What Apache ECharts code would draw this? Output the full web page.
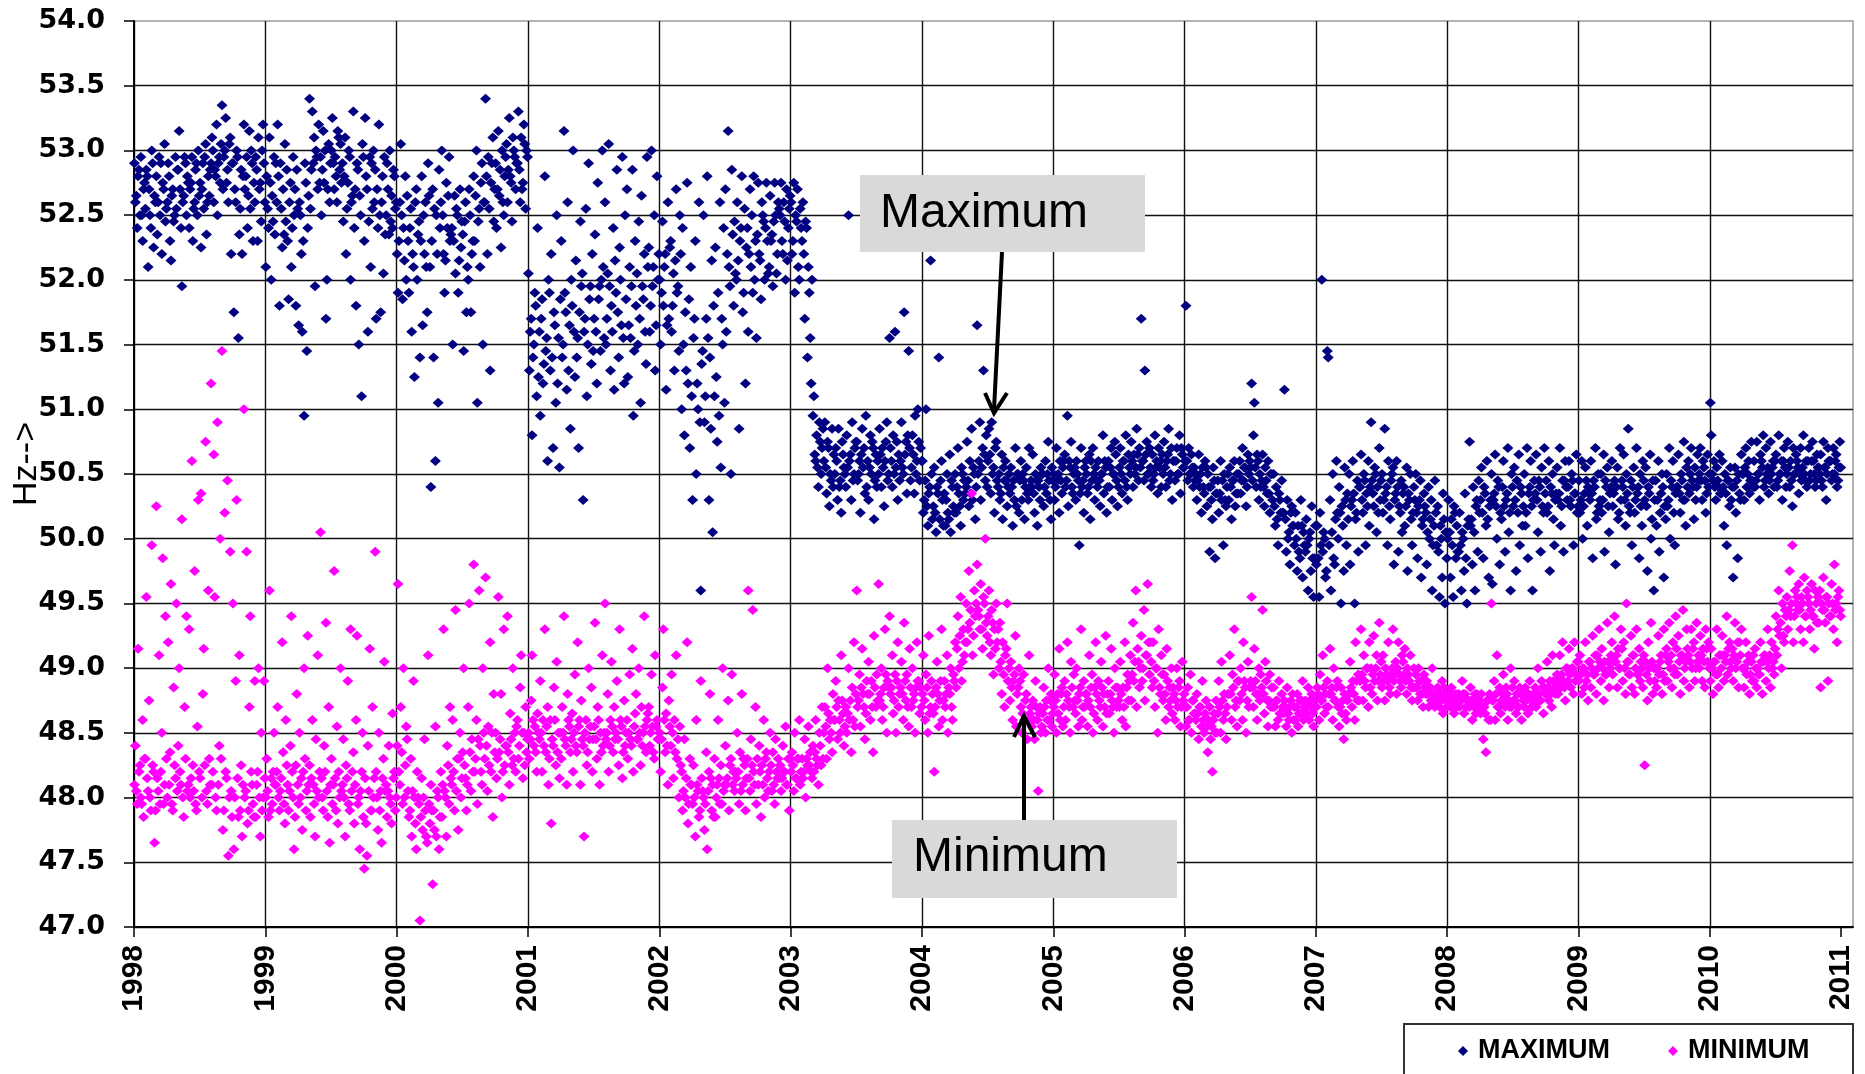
<!DOCTYPE html>
<html><head><meta charset="utf-8">
<script src="https://cdn.jsdelivr.net/npm/echarts@6/dist/echarts.min.js"></script>
<style>html,body{margin:0;padding:0;background:#fff}#c{width:1865px;height:1074px}</style>
</head><body><div id="c"></div>
<script>
// Tick labels (years on the x axis)
const years = [1998,1999,2000,2001,2002,2003,2004,2005,2006,2007,2008,2009,2010,2011];
const seriesNames = ['MAXIMUM','MINIMUM'];
const yAxisTitle = 'Hz-->';

// Maximum frequency readings (Hz), 12 readings per month, one line per month Jan..Dec
const max1998 = [
52.9,52.6,52.65,52.4,52.8,52.85,52.5,52.95,52.5,52.3,52.7,52.75,
52.55,52.85,52.8,52.1,52.7,52.5,52.4,53.0,52.9,52.25,52.65,52.6,
52.8,52.35,52.6,52.95,52.5,52.9,52.2,52.75,52.7,53.05,52.45,52.55,
52.6,52.9,52.8,52.3,52.15,52.65,52.7,52.45,52.5,52.95,52.55,52.85,
52.85,53.15,52.7,52.4,51.95,52.6,52.65,52.95,52.9,52.5,52.8,52.75,
52.4,52.7,52.75,52.95,52.3,52.55,52.6,52.85,52.9,52.5,53.0,52.65,
52.75,52.25,52.7,52.9,52.55,52.95,53.05,52.35,52.6,52.8,52.65,52.85,
52.9,53.1,53.0,52.6,52.85,52.8,53.2,52.5,52.9,52.95,52.75,53.05,
53.35,52.7,52.95,53.0,53.25,52.75,52.85,52.6,53.05,53.1,52.2,52.9,
52.9,51.75,52.7,52.6,53.0,52.95,51.55,52.35,52.55,52.85,52.2,52.8,
53.2,52.7,52.8,52.95,52.4,52.65,53.15,52.55,53.0,52.9,52.3,52.75,
52.6,52.95,52.85,52.3,53.1,52.7,52.75,52.45,53.0,53.2,52.9,52.6];
const max1999 = [
52.1,52.8,52.55,52.4,53.1,52.75,52.0,52.65,52.45,52.95,52.35,52.9,
52.6,53.2,52.8,51.8,52.9,52.55,52.25,52.7,52.35,53.05,52.45,52.85,
52.3,51.85,52.6,52.75,52.1,52.4,52.95,52.5,52.7,51.8,52.85,52.55,
51.65,52.6,52.5,52.2,51.6,52.3,50.95,52.9,52.75,51.45,52.4,52.65,
53.4,52.55,52.85,53.3,52.9,53.1,51.95,53.0,52.95,52.7,53.2,52.75,
52.95,52.5,52.85,53.15,52.75,53.0,51.7,52.0,52.7,53.05,52.6,52.9,
53.0,53.25,52.9,52.7,52.95,52.8,52.6,53.15,53.1,52.85,53.05,52.75,
52.9,52.45,52.8,53.1,52.2,52.55,52.75,53.0,52.95,52.0,52.6,52.65,
53.3,52.4,52.7,51.8,52.9,52.85,51.5,52.65,52.5,51.1,53.05,52.95,
52.3,53.25,52.8,52.7,51.6,52.45,52.95,52.1,52.9,52.55,53.0,52.6,
52.85,51.7,52.7,52.4,53.2,52.5,51.75,52.6,52.8,52.05,52.95,52.35,
52.5,52.9,52.7,52.35,53.0,52.45,52.65,52.4,52.85,52.8,52.55,52.6];
const max2000 = [
52.2,51.9,52.3,52.6,53.05,52.5,51.85,52.4,52.15,52.8,52.0,52.65,
52.3,51.9,52.4,52.55,51.6,52.2,52.1,51.25,52.6,52.7,52.0,52.35,
52.45,51.4,52.3,52.8,51.65,52.5,52.2,52.6,52.1,51.75,52.9,52.65,
52.1,50.4,52.3,52.7,51.4,52.55,50.6,52.5,52.2,51.05,52.85,52.4,
52.6,53.0,52.5,52.2,51.9,52.15,52.75,52.4,52.65,52.95,52.3,52.35,
52.4,51.5,52.3,52.65,52.05,52.55,52.5,51.9,52.15,52.7,52.25,52.45,
52.35,51.45,52.45,52.6,51.75,52.1,52.0,52.7,52.5,51.75,52.2,52.3,
52.8,52.3,52.65,53.0,51.05,52.45,52.55,52.1,52.75,52.9,51.5,52.6,
52.6,53.4,52.8,52.2,52.95,52.55,51.3,52.75,52.9,53.1,52.45,52.7,
52.9,52.4,52.7,53.15,52.65,52.85,52.25,53.0,52.6,52.5,52.8,52.95,
53.05,52.6,52.85,53.25,52.8,52.75,52.45,53.1,53.0,52.95,52.7,52.9,
52.9,53.3,52.85,52.6,53.1,52.7,52.75,53.2,53.05,52.55,53.0,52.95];
const max2001 = [
52.05,51.3,51.6,51.7,50.8,51.4,51.5,51.9,51.8,51.1,52.4,51.25,
51.6,50.95,51.7,51.85,51.2,51.35,52.8,51.45,51.55,50.6,52.0,51.9,
51.3,52.2,51.4,50.7,51.75,51.65,51.05,52.5,51.2,51.55,50.55,51.85,
52.3,51.4,51.5,53.15,51.9,51.75,51.15,52.6,51.3,51.65,50.85,52.0,
51.8,53.0,51.6,51.25,52.15,51.4,51.55,50.7,51.75,52.45,51.95,52.05,
50.3,51.6,51.7,52.55,51.1,51.5,52.9,51.85,51.95,51.35,52.2,51.45,
51.7,52.35,51.6,51.2,52.75,51.85,51.95,51.45,52.0,53.0,52.1,51.55,
52.6,51.5,51.7,52.05,53.05,51.95,51.3,51.8,51.6,52.4,51.15,52.15,
51.9,52.85,51.75,51.4,52.25,52.0,51.65,52.95,51.55,51.2,52.5,51.85,
52.7,51.25,51.65,52.1,51.55,51.95,52.85,50.95,51.45,52.3,51.8,52.05,
51.5,52.45,51.7,51.05,52.65,51.95,51.85,52.2,51.6,51.35,52.95,52.1,
52.25,51.6,51.8,53.0,51.95,52.1,52.5,51.3,51.65,52.8,52.0,52.2];
const max2002 = [
52.0,51.5,51.9,52.45,51.8,52.1,52.2,51.15,51.65,52.6,51.7,52.25,
52.3,51.6,51.8,52.05,51.3,52.15,52.7,51.9,51.95,51.45,52.5,52.2,
51.0,52.4,51.5,50.8,51.75,51.3,52.75,51.2,51.85,50.7,52.1,51.1,
50.3,51.55,51.7,52.3,50.5,51.2,51.0,52.6,50.9,49.6,51.35,51.45,
52.5,50.9,51.1,51.7,52.8,51.55,50.3,51.4,50.85,52.15,50.05,51.8,
51.1,52.25,51.25,50.75,51.9,50.95,52.6,50.55,51.7,51.5,52.4,51.05,
52.7,51.6,52.2,53.15,52.1,51.95,50.5,52.85,52.35,51.8,52.45,52.05,
52.0,52.6,52.15,50.85,52.3,52.4,52.8,51.75,51.9,52.55,51.2,52.25,
52.4,51.6,52.2,52.7,52.1,52.5,51.9,52.8,52.0,52.3,51.55,52.35,
52.75,52.2,52.15,51.85,52.6,52.5,52.45,52.0,52.4,52.75,52.3,52.05,
52.1,52.65,52.3,52.35,51.95,52.45,52.75,52.5,52.05,52.2,52.6,52.55,
52.5,52.75,52.3,52.2,52.6,52.45,52.0,52.7,52.15,52.4,52.55,52.65];
const max2003 = [
52.6,52.2,52.3,52.75,51.9,52.5,52.45,52.7,52.1,52.0,52.55,52.4,
52.3,52.6,52.2,51.7,52.45,52.4,51.4,52.1,51.9,51.55,51.2,52.0,
50.95,51.1,50.65,50.6,50.8,50.55,50.4,50.9,50.75,50.5,50.7,50.85,
50.6,50.9,50.55,50.35,50.75,50.7,50.25,50.5,50.45,50.85,50.4,50.65,
50.5,50.7,50.6,50.3,50.85,50.4,50.45,50.2,50.75,50.65,50.55,50.5,
50.4,50.8,50.55,52.5,50.6,50.65,50.3,50.9,50.45,50.5,50.7,50.75,
50.75,50.45,50.5,50.6,50.2,50.65,50.85,50.55,50.7,50.35,50.95,50.4,
50.6,50.3,50.55,50.8,50.5,50.75,50.7,50.15,50.45,50.65,50.4,50.6,
50.5,50.85,50.65,50.4,50.7,50.55,50.25,50.6,50.75,50.9,50.45,50.5,
51.55,50.7,50.6,50.4,50.8,50.5,51.6,50.55,50.75,50.3,50.65,50.45,
50.6,50.9,50.55,50.5,51.75,50.65,50.75,50.35,50.8,51.45,50.7,50.45,
50.55,50.8,50.65,50.35,50.95,50.5,50.6,51.0,50.75,50.45,50.7,50.6];
const max2004 = [
50.6,50.2,50.3,50.45,51.0,50.25,50.1,50.35,50.4,52.15,50.5,50.15,
50.25,50.55,50.2,50.05,50.4,50.35,51.4,50.15,50.45,50.6,50.3,50.1,
50.35,50.1,50.3,50.5,50.2,50.15,50.65,50.05,50.45,50.4,50.25,50.2,
50.5,50.2,50.4,50.7,50.35,50.25,50.1,50.55,50.5,50.3,50.45,50.35,
50.4,50.75,50.45,50.25,50.6,50.35,50.85,50.3,50.55,50.5,50.15,50.4,
51.65,50.5,50.6,50.9,50.3,50.55,50.7,51.3,50.65,50.45,50.8,50.4,
50.6,50.85,50.65,50.35,50.9,50.5,50.55,50.2,50.7,50.75,50.45,50.4,
50.5,50.3,50.35,50.65,50.15,50.55,50.45,50.6,50.45,50.25,50.4,50.5,
50.35,50.55,50.4,50.1,50.45,50.3,50.7,50.25,50.5,50.5,50.2,50.45,
50.6,50.3,50.5,50.45,50.15,50.4,50.55,50.35,50.3,50.7,50.4,50.45,
50.4,50.65,50.35,50.2,50.5,50.45,50.1,50.45,50.4,50.3,50.55,50.5,
50.5,50.25,50.4,50.6,50.35,50.5,50.75,50.45,50.3,50.15,50.55,50.45];
const max2005 = [
50.5,50.3,50.4,50.7,50.45,50.5,50.2,50.6,50.45,50.35,50.55,50.6,
50.65,50.4,50.45,50.95,50.25,50.6,50.55,50.75,50.4,50.35,50.5,50.55,
50.3,50.6,50.5,50.45,49.95,50.35,50.7,50.4,50.45,50.2,50.55,50.6,
50.5,50.35,50.4,50.65,50.15,50.6,50.45,50.7,50.5,50.3,50.55,50.45,
50.4,50.6,50.45,50.25,50.5,50.5,50.8,50.35,50.6,50.55,50.2,50.4,
50.6,50.4,50.55,50.7,50.3,50.5,50.5,50.75,50.65,50.45,50.25,50.4,
50.55,50.7,50.5,50.35,50.6,50.6,50.45,50.8,50.4,50.3,50.65,50.55,
50.5,50.75,50.6,50.4,50.65,50.5,50.55,50.85,50.65,50.45,50.7,50.55,
51.7,50.6,50.6,50.45,51.3,50.65,50.75,50.5,50.5,50.7,50.55,50.4,
50.65,50.45,50.5,50.8,50.55,50.6,50.35,50.7,50.55,50.6,50.4,50.65,
50.5,50.75,50.55,50.4,50.6,50.65,50.85,50.45,50.5,50.7,50.3,50.6,
50.6,50.45,50.6,50.7,50.5,50.5,50.8,50.35,50.7,50.65,50.55,50.55];
const max2006 = [
50.6,51.8,50.6,50.45,50.7,50.5,50.5,50.65,50.55,50.4,50.55,50.45,
50.5,50.3,50.45,50.65,50.4,50.5,50.2,50.55,50.4,50.35,50.6,50.55,
50.25,50.5,50.4,49.9,50.4,50.3,50.15,50.55,50.45,49.85,50.35,50.35,
50.45,50.2,50.35,50.6,50.3,50.45,49.95,50.5,50.3,50.25,50.4,50.5,
50.3,50.55,50.4,50.15,50.45,50.45,50.6,50.25,50.35,50.5,50.35,50.5,
50.6,50.35,50.45,50.7,50.45,50.55,50.55,50.25,50.4,50.65,50.5,50.6,
50.55,51.2,50.45,50.8,51.05,50.55,50.4,50.65,50.6,50.3,50.5,50.4,
50.45,50.65,50.4,50.25,50.55,50.45,50.35,50.6,50.35,50.2,50.5,50.5,
50.3,50.5,50.25,50.1,50.4,50.15,49.95,50.35,50.3,50.2,50.45,50.2,
50.2,51.15,50.15,49.9,50.3,50.0,50.05,49.8,50.2,50.25,50.1,50.1,
49.95,50.2,50.0,49.75,50.1,49.9,49.85,50.3,50.1,49.7,50.05,49.95,
49.9,50.15,49.95,49.6,50.0,50.05,49.75,50.25,49.85,49.55,49.85,50.1];
const max2007 = [
49.8,50.1,49.85,49.55,50.2,49.95,52.0,49.9,50.05,50.0,49.7,49.75,
51.45,51.4,49.95,50.3,49.6,50.05,50.5,49.85,49.8,50.15,50.6,50.2,
50.0,50.4,50.2,49.5,50.25,50.1,49.75,50.55,50.3,49.95,50.35,50.15,
50.5,49.8,50.25,50.3,50.6,50.35,49.5,50.15,50.2,50.45,49.9,50.4,
50.4,50.65,50.3,50.2,50.5,50.45,49.95,50.35,50.25,50.6,50.1,50.4,
50.9,50.45,50.35,50.25,50.55,50.5,50.05,50.4,50.2,50.7,50.3,50.45,
50.5,50.2,50.3,50.85,50.35,50.4,49.95,50.6,50.25,50.15,50.45,50.5,
50.55,49.8,50.3,50.35,50.6,50.4,49.9,50.25,50.2,50.45,50.05,50.35,
50.4,50.1,50.25,50.55,49.75,50.35,50.3,50.5,50.15,49.95,50.2,50.4,
50.3,50.5,50.2,49.85,50.25,50.3,50.45,49.7,50.1,50.15,50.35,50.25,
50.2,49.8,50.05,50.4,50.0,50.15,50.3,49.6,49.95,50.1,50.45,50.2,
49.95,50.25,49.9,49.55,50.1,50.0,49.7,50.35,50.15,49.5,50.05,49.85];
const max2008 = [
50.0,50.3,50.05,49.7,50.15,49.95,49.55,50.25,50.2,49.85,50.1,49.9,
49.9,50.2,49.95,49.6,50.05,50.0,49.75,50.35,49.85,49.5,50.1,50.15,
50.75,50.1,50.15,49.8,50.4,50.05,49.6,50.25,50.3,49.9,50.45,50.2,
50.3,50.55,50.2,49.85,50.4,50.35,50.1,50.6,50.15,49.7,50.25,50.3,
50.5,49.65,50.3,50.35,50.65,50.25,50.0,50.45,50.4,49.8,50.2,50.15,
50.4,50.6,50.25,49.9,50.3,50.35,50.7,50.05,50.2,49.6,50.5,50.4,
50.25,50.55,50.3,49.75,50.45,50.2,50.65,49.95,50.4,50.35,50.1,50.25,
50.5,50.1,50.2,50.7,49.85,50.35,50.4,50.6,50.25,49.6,50.3,50.45,
50.35,50.65,50.3,50.05,50.45,50.4,49.9,50.55,50.25,50.2,50.7,50.35,
50.45,50.2,50.25,50.6,49.75,50.4,50.35,50.5,50.15,49.95,50.3,50.35,
50.55,50.3,50.35,50.7,50.1,50.25,50.45,49.9,50.45,50.6,50.4,50.3,
50.4,50.6,50.3,50.25,50.5,50.45,49.95,50.35,50.35,50.65,50.2,50.25];
const max2009 = [
50.45,50.2,50.3,50.6,50.0,50.25,50.35,50.55,50.45,50.1,50.4,50.35,
50.3,50.6,50.35,49.85,50.45,50.4,50.7,50.15,50.2,50.5,50.25,50.3,
50.5,50.2,50.3,50.65,49.9,50.45,50.4,50.55,50.25,50.05,50.35,50.4,
50.6,50.25,50.35,50.45,49.8,50.4,50.55,50.15,50.2,50.7,50.3,50.45,
50.4,50.65,50.3,50.1,50.5,50.35,50.85,50.25,50.2,50.45,49.95,50.4,
50.55,50.2,50.3,50.7,50.35,50.4,49.85,50.5,50.25,50.1,50.6,50.45,
50.3,50.55,50.25,49.75,50.4,50.35,50.65,50.0,50.15,50.45,49.6,50.3,
50.45,50.1,50.3,50.6,49.9,50.2,50.35,50.5,50.4,49.7,50.25,50.15,
50.5,50.25,50.3,50.7,50.0,50.45,50.4,50.6,50.2,49.95,50.35,50.4,
50.4,50.65,50.35,50.2,50.5,50.45,50.3,50.75,50.3,50.1,50.55,50.4,
50.6,50.35,50.5,50.7,50.45,50.4,50.15,50.55,50.3,50.4,50.65,50.45,
50.5,50.7,50.45,50.3,50.6,50.55,50.45,50.2,50.35,50.65,50.4,50.5];
const max2010 = [
51.05,50.8,50.5,50.45,50.6,50.4,50.3,50.55,50.45,50.4,50.65,50.35,
50.35,50.6,50.4,50.1,50.5,50.35,49.95,50.45,50.45,50.25,50.55,50.3,
50.4,49.7,50.4,50.55,50.2,50.45,49.85,50.5,50.35,50.3,50.65,50.5,
50.5,50.3,50.55,50.7,50.4,50.5,50.6,50.35,50.45,50.75,50.45,50.4,
50.6,50.4,50.45,50.75,50.5,50.5,50.3,50.65,50.6,50.55,50.8,50.4,
50.45,50.7,50.5,50.55,50.35,50.45,50.75,50.5,50.55,50.6,50.4,50.6,
50.65,50.4,50.45,50.8,50.5,50.5,50.6,50.3,50.6,50.7,50.55,50.4,
50.5,50.75,50.55,50.4,50.6,50.45,50.25,50.7,50.5,50.5,50.65,50.6,
50.55,50.35,50.5,50.7,50.45,50.55,50.8,50.5,50.45,50.6,50.4,50.6,
50.7,50.45,50.5,50.6,50.75,50.6,50.5,50.4,50.45,50.65,50.55,50.55,
50.5,50.65,50.45,50.4,50.75,50.55,50.55,50.3,50.5,50.7,50.6,50.6,
50.6,50.45,50.5,50.7,50.5,50.6,50.65,50.4,50.45,50.55,50.75,50.55];

// Minimum frequency readings (Hz), 12 readings per month, one line per month Jan..Dec
const min1998 = [
48.1,48.4,48.05,47.95,49.15,48.2,48.25,48.0,47.95,48.6,47.85,48.3,
48.3,49.55,48.15,48.05,48.75,48.0,47.9,49.95,48.25,48.2,47.65,47.9,
50.25,48.15,48.05,49.1,47.95,48.2,48.5,49.85,47.95,48.1,49.4,48.3,
48.0,49.2,48.1,48.35,49.65,47.95,47.9,48.85,48.25,48.15,49.5,48.05,
48.4,49.0,48.2,48.1,50.15,48.0,47.85,48.7,48.3,49.4,48.05,48.1,
49.3,48.0,48.15,50.6,48.25,48.05,49.75,47.95,47.9,48.55,50.3,48.2,
48.15,50.35,48.0,48.8,49.15,48.25,50.75,48.05,47.95,49.6,48.3,48.1,
51.2,48.1,48.2,50.65,49.55,48.0,47.9,50.9,48.1,48.4,50.0,48.3,
51.45,47.75,47.9,50.2,48.2,48.15,50.45,47.55,48.0,49.9,48.05,47.85,
49.5,47.6,48.0,48.9,50.3,48.15,47.85,49.1,47.9,48.25,47.7,48.1,
51.0,48.0,48.05,49.9,47.8,47.9,48.7,49.4,48.2,48.1,47.95,47.85,
48.9,47.85,48.1,48.2,49.0,48.0,47.7,48.5,47.9,48.0,48.9,48.15];
const min1999 = [
48.0,48.3,48.05,47.85,49.6,47.9,48.15,47.95,48.2,48.5,48.1,48.1,
48.2,48.7,48.0,47.9,48.05,48.15,49.2,48.35,47.95,47.8,48.6,48.25,
48.1,47.9,48.05,48.4,49.4,48.2,48.0,47.6,47.85,48.25,48.8,48.1,
47.95,48.5,48.0,48.15,47.75,48.2,49.0,48.3,47.9,48.05,49.25,48.1,
48.25,47.85,48.15,48.6,48.1,47.95,47.7,48.45,48.05,49.1,48.0,48.2,
50.05,48.15,48.0,47.9,48.4,48.2,49.35,48.05,47.85,48.7,47.65,48.1,
48.3,47.95,48.1,49.75,48.15,47.9,48.55,47.8,48.2,48.0,49.0,48.05,
48.1,48.45,48.0,47.7,48.25,48.15,48.9,47.95,47.9,49.3,48.05,48.2,
48.35,47.8,48.1,48.6,49.25,47.95,48.0,47.6,48.05,48.2,48.5,47.85,
47.45,48.15,47.8,47.55,48.4,48.05,49.15,47.9,47.9,48.7,48.0,48.15,
49.9,48.2,48.0,47.75,48.5,47.9,48.05,47.65,48.15,48.3,49.05,48.05,
48.1,47.85,48.05,48.4,48.0,47.95,47.8,48.65,48.15,48.2,47.9,48.0];
const min2000 = [
48.4,49.65,48.2,48.1,48.7,48.35,47.95,49.0,48.0,48.25,48.55,48.45,
48.05,47.85,47.9,48.3,47.7,48.05,48.9,48.0,47.8,47.6,48.2,48.0,
47.95,47.05,47.85,48.15,47.75,48.0,48.45,47.9,47.7,47.65,49.1,47.95,
47.8,48.1,47.9,47.33,47.9,47.75,48.55,47.7,48.05,48.0,47.6,47.85,
48.2,47.85,48.1,49.3,48.05,48.0,47.7,48.4,48.25,47.95,48.7,48.15,
48.1,48.6,48.2,47.9,49.45,48.05,48.3,47.75,48.3,48.5,48.0,48.15,
48.35,49.0,48.25,48.15,47.9,48.1,48.7,49.5,48.35,48.05,48.45,48.2,
49.8,48.2,48.3,48.6,47.95,48.45,49.6,48.4,48.2,48.1,49.0,48.5,
48.3,49.7,48.4,48.05,48.55,48.25,49.2,48.2,48.5,47.85,48.8,48.35,
48.5,48.15,48.3,49.55,48.35,48.45,48.8,48.0,48.2,49.3,48.25,48.4,
48.4,49.4,48.35,48.1,48.65,48.45,48.25,49.0,48.3,48.5,48.2,48.55,
48.6,48.3,48.4,48.85,49.1,48.5,48.15,48.5,48.25,48.7,48.35,48.45];
const min2001 = [
48.5,48.3,48.45,48.75,49.1,48.6,48.4,48.55,48.35,48.2,48.65,48.5,
48.45,48.9,48.5,48.2,48.6,48.4,49.3,48.35,48.55,48.7,48.1,48.3,
48.6,47.8,48.45,48.4,48.85,48.6,48.25,49.05,48.35,48.5,48.15,48.5,
48.3,48.7,48.5,49.4,48.45,48.4,48.1,48.8,48.6,48.55,48.35,48.45,
48.65,48.2,48.5,48.95,48.4,48.35,49.2,48.55,48.6,48.1,48.75,48.45,
48.4,47.7,48.5,48.6,48.25,48.35,49.0,48.45,48.55,48.85,48.2,48.45,
48.55,49.35,48.45,48.3,48.7,48.6,48.1,48.5,48.35,49.1,48.4,48.5,
49.5,48.45,48.5,48.8,48.2,48.4,48.6,49.05,48.55,48.35,48.7,48.45,
48.5,48.9,48.45,48.25,49.3,48.6,48.55,48.15,48.35,48.75,48.4,48.5,
48.6,48.3,48.5,48.95,48.45,48.4,49.15,48.2,48.55,48.65,48.8,48.45,
48.45,49.0,48.5,48.25,48.7,48.4,48.5,49.4,48.55,48.35,48.6,48.65,
48.7,48.4,48.5,48.95,48.55,48.35,48.3,49.1,48.55,48.6,48.45,48.45];
const min2002 = [
48.5,48.2,48.45,48.85,49.3,48.6,48.35,48.65,48.4,48.1,48.75,48.55,
48.4,48.95,48.5,48.15,48.6,48.35,49.1,48.3,48.45,48.0,48.55,48.25,
48.2,47.9,48.05,48.45,48.0,48.15,49.2,47.8,47.95,48.3,48.1,48.1,
47.95,48.25,48.0,47.7,48.6,48.1,48.05,47.85,47.9,48.9,48.15,48.05,
48.0,47.75,47.95,48.35,47.6,48.05,48.2,48.8,48.15,47.9,48.1,47.85,
48.3,47.85,48.0,48.1,48.6,48.15,47.95,48.25,47.95,49.0,48.05,48.1,
48.4,48.1,48.15,48.75,47.9,48.25,48.3,48.95,48.1,48.2,48.05,48.2,
48.15,48.5,48.2,47.95,48.35,48.05,48.8,48.1,48.3,48.25,47.9,48.15,
48.3,49.6,48.15,48.05,48.45,48.25,49.45,48.2,48.1,48.7,47.95,48.3,
48.1,48.4,48.2,47.85,48.25,48.1,48.6,48.0,48.3,48.35,48.15,48.05,
48.2,48.5,48.25,48.05,48.35,48.1,47.95,48.45,48.2,48.15,48.3,48.15,
48.25,48.05,48.15,48.4,48.2,48.2,48.55,48.1,48.1,48.3,47.9,48.3];
const min2003 = [
48.2,48.35,48.25,48.05,48.5,48.15,48.15,48.3,48.3,48.6,48.1,48.2,
48.3,48.15,48.2,48.45,48.0,48.3,48.25,48.55,48.25,48.35,48.2,48.15,
48.4,48.2,48.35,48.6,48.3,48.25,48.1,48.5,48.4,48.25,48.7,48.3,
48.5,48.7,48.55,48.3,49.0,48.65,48.45,48.6,48.5,48.35,48.8,48.6,
48.6,48.9,48.7,48.45,48.75,48.6,48.5,49.1,48.75,48.65,48.4,48.55,
48.7,48.5,48.65,49.0,48.6,48.75,48.35,48.85,48.6,49.2,48.55,48.8,
49.6,48.7,48.75,48.95,48.55,48.85,49.15,48.8,48.7,48.45,48.65,48.9,
48.8,49.05,48.8,48.6,48.9,48.7,48.35,49.25,48.85,48.7,48.95,48.75,
49.65,48.75,48.8,49.0,48.6,48.7,48.85,49.3,48.95,48.5,48.9,48.85,
49.4,48.8,48.85,49.1,48.65,48.75,48.95,48.5,48.9,49.2,48.7,48.8,
48.85,49.05,48.8,48.6,49.35,48.9,48.75,48.95,48.7,48.55,49.15,48.85,
48.7,49.0,48.75,48.8,48.5,48.85,49.2,48.9,48.9,48.65,48.85,48.7];
const min2004 = [
48.8,49.1,48.75,48.6,48.95,48.85,48.5,49.25,48.65,48.7,48.9,48.8,
48.65,48.2,48.7,48.85,49.05,48.8,48.55,48.75,48.9,49.3,48.6,48.75,
48.9,48.7,48.8,49.1,48.5,48.85,48.8,49.0,48.7,48.6,48.95,48.9,
49.2,48.85,49.15,49.4,49.0,49.25,49.55,48.9,49.05,49.3,49.1,49.2,
49.5,49.2,49.3,49.75,49.35,49.45,50.35,49.1,49.25,49.6,49.4,49.5,
49.8,49.45,49.4,49.3,49.65,49.3,49.15,49.55,49.5,50.0,49.35,49.25,
49.4,49.6,49.2,49.1,49.45,49.35,48.95,49.3,49.15,49.5,49.2,49.3,
49.0,49.35,49.05,48.8,49.2,48.95,48.7,49.1,49.15,49.5,48.9,49.0,
48.75,49.05,48.85,48.6,48.9,48.95,49.25,48.55,48.8,48.85,49.0,48.9,
48.7,48.5,48.65,48.95,48.6,48.75,48.8,48.45,48.6,49.1,48.65,48.7,
48.55,48.75,48.6,48.45,48.9,48.7,48.6,48.05,48.65,48.7,48.5,48.55,
48.65,48.85,48.7,48.5,48.75,48.6,49.0,48.6,48.75,48.8,48.55,48.65];
const min2005 = [
48.7,48.95,48.75,48.5,48.8,48.65,49.15,48.6,48.8,48.85,48.55,48.7,
48.9,48.6,48.8,49.2,48.75,48.7,48.5,49.05,48.85,48.7,48.95,48.75,
48.65,49.0,48.75,48.55,48.8,48.85,49.3,48.6,48.7,48.9,48.7,48.8,
48.8,48.55,48.75,49.1,48.7,48.85,48.95,48.5,48.65,48.85,49.2,48.8,
48.6,48.9,48.75,48.7,49.05,48.85,48.55,48.8,48.7,49.25,48.65,48.8,
48.9,48.65,48.8,49.15,48.75,48.7,48.5,49.0,48.85,48.7,48.85,48.75,
48.7,49.05,48.8,48.6,48.85,48.7,49.2,48.55,48.85,48.95,48.75,48.9,
49.1,48.75,48.95,49.35,48.9,49.05,49.6,48.7,49.15,49.05,48.85,49.0,
49.25,48.9,49.0,49.45,48.75,49.1,49.1,49.65,49.2,48.95,49.2,49.05,
48.85,49.2,48.9,48.7,49.0,49.0,48.5,49.3,48.85,48.8,49.1,48.95,
48.75,48.95,48.8,48.6,49.15,48.9,48.7,48.85,48.75,49.0,48.65,48.85,
48.8,48.6,48.75,49.0,48.7,48.85,48.9,48.55,48.7,49.05,48.75,48.8];
const min2006 = [
48.7,48.55,48.7,48.85,48.6,48.6,48.95,48.5,48.75,48.75,48.65,48.65,
48.6,48.8,48.65,48.45,48.7,48.7,48.55,48.9,48.6,48.5,48.65,48.75,
48.55,48.35,48.6,48.7,48.45,48.55,48.2,48.6,48.65,48.5,48.75,48.5,
48.65,48.9,48.7,48.5,49.05,48.75,48.6,48.8,48.65,48.45,48.7,48.8,
48.8,49.1,48.8,48.6,48.95,48.85,49.3,48.7,48.75,48.55,48.9,48.9,
48.75,49.0,48.8,48.6,49.2,48.9,48.85,48.5,48.75,49.05,48.7,48.85,
48.9,49.55,48.85,48.7,49.15,48.9,48.8,48.6,48.8,49.0,48.75,48.95,
48.85,49.45,48.8,48.65,49.05,48.9,48.75,48.55,48.75,48.95,48.7,48.85,
48.7,48.85,48.7,48.55,48.75,48.75,48.6,48.9,48.65,48.65,48.8,48.7,
48.65,48.75,48.7,48.55,48.85,48.65,48.6,48.7,48.75,48.5,48.8,48.6,
48.7,48.6,48.7,48.8,48.55,48.65,48.75,48.65,48.75,48.9,48.6,48.7,
48.75,48.65,48.7,48.85,48.6,48.75,48.7,48.8,48.65,48.55,48.75,48.7];
const min2007 = [
48.7,48.85,48.8,48.6,48.95,48.75,48.75,49.1,48.85,48.65,48.8,48.7,
48.9,48.7,48.8,49.15,48.8,48.85,48.6,49.0,48.75,48.75,48.85,48.9,
48.7,48.55,48.7,48.85,48.65,48.75,48.45,48.8,48.65,48.6,48.75,48.8,
48.8,49.05,48.85,48.7,48.9,48.8,48.6,49.2,48.9,48.75,48.95,48.75,
48.9,49.3,48.95,48.75,49.1,48.9,48.85,49.0,49.0,48.7,49.2,48.85,
49.0,48.8,48.95,49.25,48.9,49.0,49.1,48.75,48.9,49.35,48.95,49.05,
48.85,49.1,48.9,48.75,49.0,48.95,48.9,49.2,48.85,48.8,48.95,49.0,
49.3,48.9,48.95,49.05,48.8,49.0,49.2,48.95,48.9,48.85,49.1,49.05,
48.95,49.15,48.9,48.8,49.0,48.95,48.9,49.1,48.85,48.75,48.85,49.0,
48.85,48.95,48.85,48.75,49.0,48.9,48.8,48.9,48.8,48.7,48.95,48.85,
48.8,48.9,48.8,48.7,48.85,48.85,48.75,49.0,48.75,48.8,48.7,48.8,
48.75,48.85,48.8,48.7,48.8,48.75,48.9,48.65,48.85,48.8,48.75,48.7];
const min2008 = [
48.75,48.8,48.75,48.7,48.85,48.8,48.75,48.65,48.7,48.8,48.7,48.75,
48.8,48.7,48.75,48.75,48.9,48.8,48.65,48.8,48.7,48.7,48.75,48.75,
48.7,48.85,48.75,48.6,48.75,48.7,48.8,48.65,48.8,48.75,48.7,48.75,
48.65,48.8,48.7,48.45,48.7,48.65,48.35,48.75,48.75,48.6,48.8,48.6,
49.5,48.75,48.75,48.9,48.6,48.8,49.1,48.7,48.7,48.85,48.65,48.75,
48.8,48.95,48.75,48.7,48.85,48.8,48.6,48.75,48.7,49.0,48.7,48.85,
48.75,48.9,48.75,48.65,48.8,48.7,48.7,48.85,48.8,48.6,48.8,48.75,
48.7,48.85,48.75,48.8,48.65,48.8,48.9,48.75,48.7,48.7,48.8,48.75,
48.85,48.7,48.8,49.0,48.8,48.75,48.75,48.9,48.85,48.65,48.85,48.8,
48.8,49.05,48.85,48.75,48.9,48.8,48.7,49.1,48.9,48.85,48.8,48.85,
48.95,48.8,48.9,49.1,48.85,48.95,49.2,48.9,48.85,48.75,49.0,49.0,
48.9,49.15,48.95,48.85,49.0,49.0,48.8,49.2,48.9,48.95,49.05,49.05];
const min2009 = [
48.9,49.1,48.95,48.8,49.0,49.0,48.85,49.2,48.9,48.95,48.75,49.05,
49.05,48.85,49.0,49.25,48.95,48.95,49.1,48.8,49.1,49.0,49.3,49.05,
48.9,49.15,49.0,48.75,49.05,48.95,48.95,49.35,49.05,48.85,49.0,49.1,
49.2,48.95,49.05,49.4,49.05,49.1,48.85,49.15,49.0,49.0,49.3,49.15,
48.9,49.2,49.0,48.8,49.5,49.05,49.05,48.95,48.95,49.25,48.85,49.1,
49.1,48.8,49.0,49.3,48.95,48.95,49.15,48.9,49.05,49.0,48.85,49.1,
48.25,49.05,48.95,48.75,49.2,49.0,48.9,49.35,49.05,48.8,49.0,48.9,
49.0,48.85,49.0,49.25,48.95,49.05,49.1,48.8,48.95,49.3,48.9,49.1,
49.15,48.9,49.05,49.35,49.0,49.1,48.85,49.2,49.0,48.95,49.4,49.15,
48.95,49.25,49.05,48.8,49.1,49.1,49.45,48.9,49.0,49.05,49.3,49.15,
49.1,48.85,49.05,49.3,49.0,49.15,49.2,48.9,49.0,49.35,49.05,49.1,
49.0,49.25,49.1,48.9,49.15,49.05,48.85,49.3,49.15,49.05,49.2,49.0];
const min2010 = [
48.9,49.15,49.0,48.8,49.05,49.05,48.95,49.3,48.95,48.85,49.1,49.1,
49.0,49.25,49.1,48.9,49.1,49.05,49.4,48.95,49.15,49.2,49.05,49.0,
49.15,48.9,49.1,49.35,49.0,49.05,49.2,48.85,49.2,49.1,49.3,49.0,
49.0,48.85,49.0,49.2,48.95,49.05,49.1,48.8,48.95,49.05,48.9,49.1,
48.9,49.15,49.0,48.85,49.0,48.95,48.95,49.2,49.05,48.8,49.05,49.1,
49.1,48.9,49.05,49.3,49.0,49.1,48.85,49.2,49.0,49.05,48.95,49.15,
49.4,49.1,49.3,49.6,49.25,49.35,49.0,49.5,49.25,49.2,49.45,49.4,
49.55,49.3,49.45,49.75,49.4,49.5,49.95,49.2,49.4,49.6,49.5,49.55,
49.45,49.65,49.45,49.3,49.55,49.5,49.2,49.7,49.4,49.4,49.6,49.55,
49.5,49.3,49.45,49.65,49.4,49.4,49.15,49.6,49.5,49.35,49.55,49.35,
49.6,48.85,49.5,49.45,49.7,49.45,49.35,49.55,49.55,48.9,49.5,49.4,
49.4,49.65,49.5,49.3,49.8,49.45,49.5,49.2,49.55,49.6,49.45,49.4];

const maxByYear = [max1998,max1999,max2000,max2001,max2002,max2003,max2004,max2005,max2006,max2007,max2008,max2009,max2010];
const minByYear = [min1998,min1999,min2000,min2001,min2002,min2003,min2004,min2005,min2006,min2007,min2008,min2009,min2010];

// readings spread evenly through their year (date as fractional year)
function toPoints(arrs){
  const out = [];
  arrs.forEach((arr, k) => {
    const yr = years[k];
    arr.forEach((v, i) => out.push([yr + (i + 0.5) / arr.length, v]));
  });
  return out;
}

const chart = echarts.init(document.getElementById('c'), null, {renderer: 'canvas'});
const gridLineColor = '#111';
const sans = '"Liberation Sans", Arial, sans-serif';
chart.setOption({
  animation: false,
  backgroundColor: '#ffffff',
  grid: {left: 134, right: 12, top: 21, bottom: 147, show: true, borderColor: '#9a9a9a', borderWidth: 1.5,
         backgroundColor: 'transparent', outerBoundsMode: 'none', containLabel: false},
  xAxis: {
    type: 'value', min: 1998, max: 2011.09, interval: 1,
    axisLine: {show: true, onZero: false, lineStyle: {color: '#000', width: 2}},
    axisTick: {show: true, inside: false, length: 10, customValues: years, lineStyle: {color: '#000', width: 1.5}},
    axisLabel: {show: true, customValues: years, rotate: 90, margin: 18, color: '#000',
                fontFamily: sans, fontWeight: 'bold', fontSize: 30,
                formatter: v => String(Math.round(v))},
    splitLine: {show: true, showMaxLine: false, lineStyle: {color: gridLineColor, width: 1.4}}
  },
  yAxis: {
    type: 'value', min: 47, max: 54, interval: 0.5,
    axisLine: {show: true, onZero: false, lineStyle: {color: '#000', width: 2}},
    axisTick: {show: true, inside: false, length: 10, lineStyle: {color: '#000', width: 1.5}},
    axisLabel: {margin: 29, color: '#000', fontFamily: '"DejaVu Sans", sans-serif', fontWeight: 'bold', fontSize: 27,
                formatter: v => v.toFixed(1)},
    splitLine: {show: true, showMaxLine: false, lineStyle: {color: gridLineColor, width: 1.4}}
  },
  legend: {
    data: seriesNames, left: 1458, top: 1036, icon: 'diamond', itemWidth: 10, itemHeight: 10, itemGap: 58,
    padding: 0, z: 20,
    textStyle: {fontFamily: sans, fontWeight: 'bold', fontSize: 27, color: '#000', lineHeight: 30, padding: [0, 0, 0, 5]}
  },
  series: [
    {name: seriesNames[0], type: 'scatter', symbol: 'diamond', symbolSize: [11, 10], z: 2,
     itemStyle: {color: '#000080', opacity: 1}, emphasis: {disabled: true}, data: toPoints(maxByYear)},
    {name: seriesNames[1], type: 'scatter', symbol: 'diamond', symbolSize: [11, 10], z: 3,
     itemStyle: {color: '#ff00ff', opacity: 1}, emphasis: {disabled: true}, data: toPoints(minByYear)}
  ],
  graphic: [
    {type: 'text', z: 30, x: 27, y: 464, rotation: Math.PI / 2,
     style: {text: yAxisTitle, fontFamily: sans, fontSize: 34, fill: '#000',
             align: 'center', verticalAlign: 'middle', textAlign: 'center', textVerticalAlign: 'middle'}},
    {type: 'rect', z: 5, shape: {x: 1404, y: 1024, width: 449, height: 80}, style: {fill: '#fff', stroke: '#333', lineWidth: 2}},
    {type: 'rect', z: 50, shape: {x: 860, y: 175, width: 285, height: 77}, style: {fill: '#d9d9d9'}},
    {type: 'text', z: 51, x: 880, y: 214, style: {text: 'Maximum', fontFamily: sans, fontSize: 48,
      fill: '#000', align: 'left', verticalAlign: 'middle', textAlign: 'left', textVerticalAlign: 'middle'}},
    {type: 'line', z: 51, shape: {x1: 1002, y1: 252, x2: 994, y2: 410}, style: {stroke: '#000', lineWidth: 4}},
    {type: 'polyline', z: 51, shape: {points: [[985, 393], [994, 413], [1007, 393]]}, style: {stroke: '#000', lineWidth: 4, fill: null}},
    {type: 'rect', z: 50, shape: {x: 892, y: 820, width: 285, height: 78}, style: {fill: '#d9d9d9'}},
    {type: 'text', z: 51, x: 913, y: 858, style: {text: 'Minimum', fontFamily: sans, fontSize: 48,
      fill: '#000', align: 'left', verticalAlign: 'middle', textAlign: 'left', textVerticalAlign: 'middle'}},
    {type: 'line', z: 51, shape: {x1: 1024, y1: 820, x2: 1024, y2: 718}, style: {stroke: '#000', lineWidth: 4}},
    {type: 'polyline', z: 51, shape: {points: [[1014, 737], [1024, 716], [1035, 737]]}, style: {stroke: '#000', lineWidth: 4, fill: null}}
  ]
});
</script>
</body></html>
